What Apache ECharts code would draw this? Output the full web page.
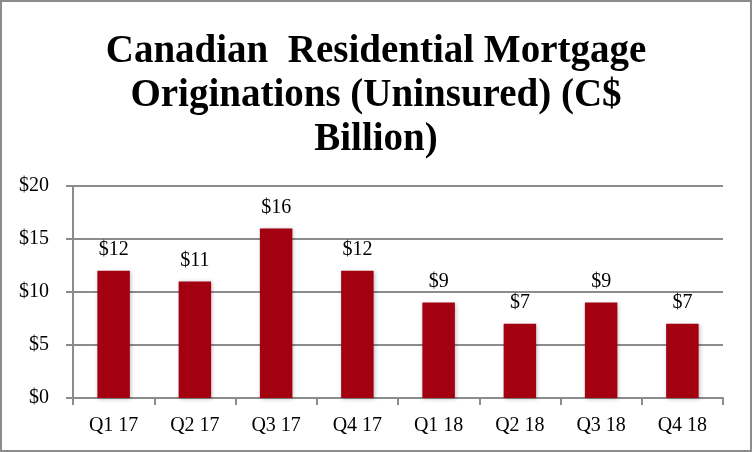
<!DOCTYPE html>
<html>
<head>
<meta charset="utf-8">
<script src="https://cdn.jsdelivr.net/npm/echarts@6/dist/echarts.min.js"></script>
<style>
  html, body { margin: 0; padding: 0; background: #fff; }
  #chart { width: 752px; height: 452px; box-sizing: border-box; border: 2px solid #8c8c8c; }
</style>
</head>
<body>
<div id="chart"></div>
<script>
const quarters = ['Q1 17', 'Q2 17', 'Q3 17', 'Q4 17', 'Q1 18', 'Q2 18', 'Q3 18', 'Q4 18'];
const originations = [12, 11, 16, 12, 9, 7, 9, 7];
const titleText = 'Canadian  Residential Mortgage\nOriginations (Uninsured) (C$\nBillion)';

const myChart = echarts.init(document.getElementById('chart'));
const serif = '"Liberation Serif", "DejaVu Serif", serif';
const option = {
  title: {
    text: titleText,
    left: 'center',
    top: 23,
    textStyle: {
      fontFamily: serif,
      fontWeight: 'bold',
      fontSize: 39,
      lineHeight: 44,
      color: '#000'
    }
  },
  grid: { left: 71, right: 27, top: 184, bottom: 52 },
  xAxis: {
    type: 'category',
    data: quarters,
    axisLine: { lineStyle: { color: '#8c8c8c', width: 2 } },
    axisTick: { show: true, length: 7, lineStyle: { color: '#8c8c8c', width: 2 } },
    axisLabel: { fontFamily: serif, fontSize: 20, color: '#000', margin: 18 }
  },
  yAxis: {
    type: 'value',
    min: 0,
    max: 20,
    interval: 5,
    axisLine: { show: true, lineStyle: { color: '#8c8c8c', width: 2 } },
    axisTick: { show: true, length: 7, lineStyle: { color: '#8c8c8c', width: 2 } },
    splitLine: { lineStyle: { color: '#8c8c8c', width: 2 } },
    axisLabel: { fontFamily: serif, fontSize: 20, color: '#000', margin: 24, formatter: '${value}' }
  },
  series: [{
    type: 'bar',
    data: originations,
    barWidth: '40%',
    itemStyle: { color: '#a30010', shadowColor: 'rgba(0,0,0,0.25)', shadowBlur: 4, shadowOffsetX: 1, shadowOffsetY: 1 },
    label: {
      show: true,
      position: 'top',
      distance: 11,
      fontFamily: serif,
      fontSize: 20,
      color: '#000',
      formatter: p => '$' + p.value
    }
  }],
  animation: false
};
myChart.setOption(option);
</script>
</body>
</html>
